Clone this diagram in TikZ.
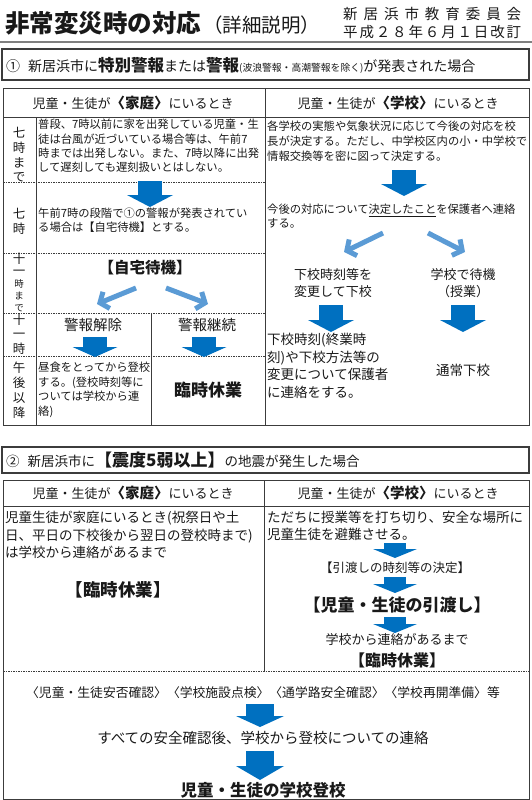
\documentclass[tikz,border=0pt]{standalone}
\usepackage{fontspec}
\setmainfont{Noto Sans CJK JP}
\usetikzlibrary{arrows.meta}

\definecolor{arrowblue}{RGB}{0,112,192}
\definecolor{paleblue}{RGB}{91,155,213}
\definecolor{rulegray}{RGB}{60,60,60}
\newcommand{\fs}[1]{\fontsize{#1}{#1}\selectfont}

\begin{document}
\begin{tikzpicture}[
      x=1pt, y=-1pt,
      every node/.style={inner sep=0pt, text=black!90},
      rulebox/.style={draw=rulegray, line width=0.9pt},
      casebox/.style={draw=rulegray, line width=1.4pt},
      dotrule/.style={draw=rulegray, line width=0.6pt, dash pattern=on 1.5pt off 1pt},
      body/.style={anchor=west, align=left, font=\fontsize{11.3}{14.3}\selectfont},
      bodylarge/.style={anchor=west, align=left, font=\fontsize{13.5}{17.5}\selectfont},
      timecell/.style={align=center, font=\fontsize{12.5}{14.7}\selectfont},
      headcell/.style={font=\fs{13}},
      bigarrow/.style={draw=arrowblue, line width=24pt, -{Triangle[length=12pt, width=46pt, line width=0pt]}},
      flatarrow/.style={draw=arrowblue, line width=22pt, -{Triangle[length=9pt, width=44pt, line width=0pt]}},
      pale/.style={draw=paleblue, line width=5pt, -{Straight Barb[length=7pt, width=18pt, line width=5pt]}}
  ]
      \useasboundingbox (0,0) rectangle (532,800);

      % Title
      \node[anchor=west, font=\bfseries\fs{24.5}] (title) at (5,23) {非常変災時の対応};
      \node[anchor=west, font=\fs{19.5}] (subtitle) at (203,25) {（詳細説明）};
      \node[anchor=west, font=\fs{14.5}] (board) at (343,14) {\makebox[178pt][s]{新\hfill 居\hfill 浜\hfill 市\hfill 教\hfill 育\hfill 委\hfill 員\hfill 会}};
      \node[anchor=west, font=\fs{14.5}] (revised) at (343,32) {\makebox[178pt][s]{平\hfill 成\hfill ２\hfill ８\hfill 年\hfill ６\hfill 月\hfill １\hfill 日\hfill 改\hfill 訂}};
      \draw[draw=gray, line width=1.2pt] (0,42) -- (532,42);

      % Case 1
      \draw[casebox] (2,49) rectangle (529,80);
      \node[anchor=west, font=\fs{14}] (case1) at (6,65) {①\hspace{8pt}新居浜市に{\bfseries\fs{16.5}特別警報}または{\bfseries\fs{16.5}警報}{\fs{9.8}(波浪警報・高潮警報を除く)}が発表された場合};

      \draw[rulebox] (3,88) rectangle (529,425);
      \draw[rulebox] (3,117) -- (529,117);
      \draw[rulebox] (265,88) -- (265,425);
      \draw[rulebox] (36,117) -- (36,425);
      \draw[rulebox] (151,313) -- (151,425);
      \foreach \y in {182,253,313,356}
        \draw[dotrule] (3,\y) -- (265,\y);

      \node[headcell] (home1) at (133,103) {児童・生徒が{\bfseries\fs{14.5}〈家庭〉}にいるとき};
      \node[headcell] (school1) at (398,103) {児童・生徒が{\bfseries\fs{14.5}〈学校〉}にいるとき};

      % Time column
      \node[timecell] (t1) at (19,155) {七\\時\\ま\\で};
      \node[timecell] (t2) at (19,221) {七\\時};
      \node[timecell, font=\fontsize{12.5}{12}\selectfont] (t3) at (19,282) {十\\一\\{\fs{9.5}時}\\{\fs{9.5}ま}\\{\fs{9.5}で}};
      \node[timecell] (t4) at (19,334) {十\\一\\時};
      \node[timecell, font=\fontsize{12.5}{15}\selectfont] (t5) at (19,390) {午\\後\\以\\降};

      % At home
      \node[body] (early) at (38,146) {普段、7時以前に家を出発している児童・生\\徒は台風が近づいている場合等は、午前7\\時までは出発しない。また、7時以降に出発\\して遅刻しても遅刻扱いとはしない。};
      \node[body] (seven) at (38,220) {午前7時の段階で①の警報が発表されてい\\る場合は【自宅待機】とする。};
      \node[font=\bfseries\fs{15.5}] (standby) at (145,268) {【自宅待機】};
      \node[font=\fs{14.5}] (lifted) at (93,325) {警報解除};
      \node[font=\fs{14.5}] (kept) at (207,325) {警報継続};
      \node[body, font=\fontsize{11.3}{14.6}\selectfont] (lunch) at (38,390) {昼食をとってから登校\\する。(登校時刻等に\\ついては学校から連\\絡)};
      \node[font=\bfseries\fs{17}] (closed1) at (208,390) {臨時休業};

      \coordinate (h1) at (150,181);  \coordinate (h1e) at (150,207);
      \coordinate (h2) at (136,288);  \coordinate (h2e) at (97,304);
      \coordinate (h3) at (166,288);  \coordinate (h3e) at (208,304);
      \coordinate (h4) at (95,337);   \coordinate (h4e) at (95,357);
      \coordinate (h5) at (204,337);  \coordinate (h5e) at (204,357);
      \draw[bigarrow] (h1) -- (h1e);
      \draw[pale] (h2) -- (h2e);
      \draw[pale] (h3) -- (h3e);
      \draw[bigarrow, -{Triangle[length=10pt, width=45pt, line width=0pt]}] (h4) -- (h4e);
      \draw[bigarrow, -{Triangle[length=10pt, width=45pt, line width=0pt]}] (h5) -- (h5e);

      % At school
      \node[body, font=\fontsize{11.3}{15}\selectfont] (principal) at (267,141) {各学校の実態や気象状況に応じて今後の対応を校\\長が決定する。ただし、中学校区内の小・中学校で\\情報交換等を密に図って決定する。};
      \node[body, font=\fontsize{11.3}{14}\selectfont] (notify) at (267,216) {今後の対応について\underline{決定したこと}を保護者へ連絡\\する。};
      \node[align=center, font=\fontsize{13}{17}\selectfont] (change) at (333,283) {下校時刻等を\\変更して下校};
      \node[align=center, font=\fontsize{13}{17}\selectfont] (wait) at (463,283) {学校で待機\\（授業）};
      \node[bodylarge] (changetxt) at (267,366) {下校時刻(終業時\\刻)や下校方法等の\\変更について保護者\\に連絡をする。};
      \node[font=\fs{13.5}] (normal) at (463,370) {通常下校};

      \coordinate (s1) at (404,170);  \coordinate (s1e) at (404,196);
      \coordinate (s2) at (383,233);  \coordinate (s2e) at (344,252);
      \coordinate (s3) at (428,233);  \coordinate (s3e) at (465,252);
      \coordinate (s4) at (331,305);  \coordinate (s4e) at (331,332);
      \coordinate (s5) at (463,305);  \coordinate (s5e) at (463,332);
      \draw[bigarrow] (s1) -- (s1e);
      \draw[pale] (s2) -- (s2e);
      \draw[pale] (s3) -- (s3e);
      \draw[bigarrow] (s4) -- (s4e);
      \draw[bigarrow] (s5) -- (s5e);

      % Case 2
      \draw[casebox] (2,447) rectangle (529,473);
      \node[anchor=west, font=\fs{13.5}] (case2) at (6,460) {②\hspace{8pt}新居浜市に{\bfseries\fs{17}【震度5弱以上】}の地震が発生した場合};

      \draw[rulebox] (3,480) rectangle (529,799);
      \draw[rulebox] (3,506) -- (529,506);
      \draw[rulebox] (264,480) -- (264,671);
      \draw[dotrule] (3,671) -- (529,671);

      \node[headcell] (home2) at (133,493) {児童・生徒が{\bfseries\fs{14.5}〈家庭〉}にいるとき};
      \node[headcell] (school2) at (398,493) {児童・生徒が{\bfseries\fs{14.5}〈学校〉}にいるとき};

      \node[bodylarge] (holiday) at (5,535) {児童生徒が家庭にいるとき(祝祭日や土\\日、平日の下校後から翌日の登校時まで)\\は学校から連絡があるまで};
      \node[font=\bfseries\fs{17.5}] (closed2) at (118,590) {【臨時休業】};

      \node[bodylarge] (evacuate) at (267,526) {ただちに授業等を打ち切り、安全な場所に\\児童生徒を避難させる。};
      \node[font=\fs{12.5}] (decide) at (395,568) {【引渡しの時刻等の決定】};
      \node[font=\bfseries\fs{17}] (handover) at (397,605) {【児童・生徒の引渡し】};
      \node[font=\fs{13}] (untilcall) at (397,640) {学校から連絡があるまで};
      \node[font=\bfseries\fs{16}] (closed3) at (397,660) {【臨時休業】};

      \coordinate (e1) at (395,543);  \coordinate (e1e) at (395,558);
      \coordinate (e2) at (395,577);  \coordinate (e2e) at (395,593);
      \coordinate (e3) at (395,617);  \coordinate (e3e) at (395,633);
      \draw[flatarrow] (e1) -- (e1e);
      \draw[flatarrow] (e2) -- (e2e);
      \draw[flatarrow] (e3) -- (e3e);

      % After
      \node[font=\fs{12.8}] (checks) at (263,693) {〈児童・生徒安否確認〉〈学校施設点検〉〈通学路安全確認〉〈学校再開準備〉等};
      \node[font=\fs{14.5}] (afterall) at (263,738) {すべての安全確認後、学校から登校についての連絡};
      \node[font=\bfseries\fs{16.5}] (attend) at (263,790) {児童・生徒の学校登校};

      \coordinate (b1) at (260,704);  \coordinate (b1e) at (260,727);
      \coordinate (b2) at (260,751);  \coordinate (b2e) at (260,780);
      \draw[bigarrow, line width=28pt, -{Triangle[length=11pt, width=48pt, line width=0pt]}] (b1) -- (b1e);
      \draw[bigarrow, line width=28pt, -{Triangle[length=14pt, width=48pt, line width=0pt]}] (b2) -- (b2e);
  \end{tikzpicture}
\end{document}
